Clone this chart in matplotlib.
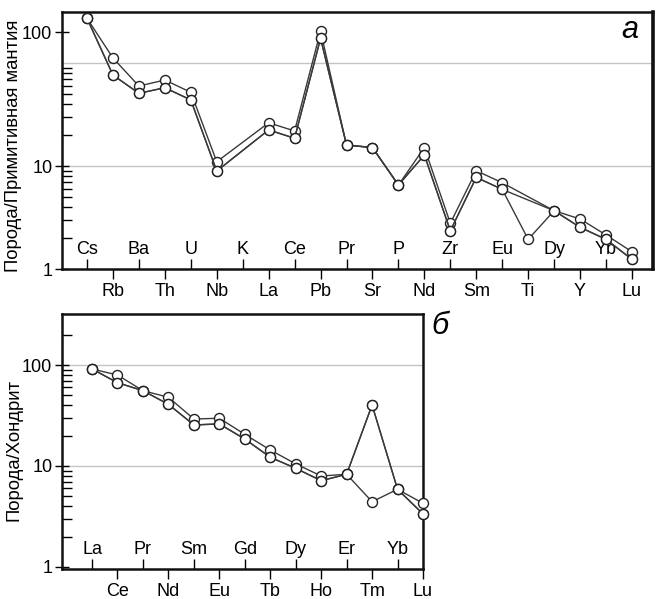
import numpy as np
import matplotlib
matplotlib.use("Agg")
import matplotlib.pyplot as plt
from matplotlib.ticker import FixedLocator, FixedFormatter, NullFormatter

plt.rcParams['font.family'] = ['Liberation Sans', 'DejaVu Sans']

# ---------------- data: panel а (primitive mantle normalised) ----------------
pm_elements = ["Cs", "Rb", "Ba", "Th", "U", "Nb", "K", "La", "Ce", "Pb", "Pr",
               "Sr", "P", "Nd", "Zr", "Sm", "Eu", "Ti", "Dy", "Y", "Yb", "Lu"]
nan = np.nan
pm_a = [272, 112, 59.8, 68.4, 52.0, 11.0, nan, 26.3, 21.9, 204.6, 16.0,
        15.1, 6.54, 15.1, 2.78, 9.0, 6.88, nan, 3.68, 3.06, 2.14, 1.47]
pm_b = [272, 76.5, 50.8, 57.6, 43.8, 8.94, nan, 22.4, 18.6, 173.7, 16.0,
        15.1, 6.54, 12.8, 2.35, 7.76, 5.93, nan, 3.68, 2.54, 1.94, 1.24]
pm_c = [272, 76.5, 50.8, 57.6, 43.8, 8.94, nan, 22.4, 18.6, 173.7, 16.0,
        15.1, 6.54, 12.8, 2.35, 7.76, 5.93, 1.94, 3.68, 2.54, 1.94, 1.24]

# ---------------- data: panel б (chondrite normalised) ----------------
ch_elements = ["La", "Ce", "Pr", "Nd", "Sm", "Eu", "Gd", "Tb", "Dy", "Ho",
               "Er", "Tm", "Yb", "Lu"]
ch_a = [91.3, 79.6, 55.7, 47.9, 29.2, 29.7, 20.6, 14.4, 10.5, 7.96, 8.28, 40.2, 5.88, 4.27]
ch_b = [91.3, 66.8, 55.7, 40.8, 25.5, 26.1, 18.5, 12.2, 9.49, 7.15, 8.28, 40.2, 5.88, 3.35]
ch_c = [91.3, 66.8, 55.7, 40.8, 25.5, 26.1, 18.5, 12.2, 9.49, 7.15, 8.28, 4.43, 5.88, 3.35]

# y tick labels as printed on the figure
pm_ytick_vals = [1, 10, 200]
pm_ytick_labels = ["1", "10", "100"]
ch_ytick_vals = [1, 10, 100]
ch_ytick_labels = ["1", "10", "100"]

W, H = 664, 599
fig = plt.figure(figsize=(W / 100, H / 100), dpi=100)

def frac_rect(l, t, r, b):
    return [l / W, 1 - b / H, (r - l) / W, (b - t) / H]

ax1 = fig.add_axes(frac_rect(62, 12, 653, 269))
ax2 = fig.add_axes(frac_rect(62, 314, 423, 569))

LINE_C = "#3a3a3a"
FS = 13

def draw_series(ax, vals):
    y = np.array(vals, dtype=float)
    x = np.arange(len(y))
    m = ~np.isnan(y)
    ax.plot(x[m], y[m], color=LINE_C, lw=1.0, marker="o", ms=7.2,
            mfc="white", mec="#222222", mew=1.0, clip_on=False, zorder=3)

def style_axis(ax, elements, xlim, ylim, ymaj, ymaj_lab, ymin_ticks):
    n = len(elements)
    ax.set_yscale("log")
    ax.set_xlim(*xlim)
    ax.set_ylim(*ylim)
    for v in (10, 100):
        ax.axhline(v, color="#c4c4c4", lw=1.0, zorder=1)
    # x ticks: odd positions below axis, even positions inside axis
    odd = list(range(1, n, 2))
    even = list(range(0, n, 2))
    ax.set_xticks(odd, [elements[i] for i in odd])
    ax.set_xticks(even, [elements[i] for i in even], minor=True)
    ax.tick_params(axis="x", which="major", direction="out", length=7,
                   width=1.0, pad=3, labelsize=FS)
    ax.tick_params(axis="x", which="minor", direction="in", length=7,
                   width=1.0, pad=-20, labelsize=FS)
    # y ticks
    ax.yaxis.set_major_locator(FixedLocator(ymaj))
    ax.yaxis.set_major_formatter(FixedFormatter(ymaj_lab))
    ax.yaxis.set_minor_locator(FixedLocator(ymin_ticks))
    ax.yaxis.set_minor_formatter(NullFormatter())
    ax.tick_params(axis="y", which="major", direction="inout", length=10,
                   width=1.0, pad=2, labelsize=FS)
    ax.tick_params(axis="y", which="minor", direction="in", length=7, width=1.0)
    for s in ax.spines.values():
        s.set_linewidth(1.8)
        s.set_color("#111111")

minor_pm = [2, 3, 4, 5, 6, 7, 8, 9, 20, 30, 40, 50, 60, 70, 80, 90]
minor_ch = [2, 3, 4, 5, 6, 7, 8, 9, 20, 30, 40, 50, 60, 70, 80, 90, 200]

style_axis(ax1, pm_elements, (-0.963, 21.81), (1.0, 313), pm_ytick_vals,
           pm_ytick_labels, minor_pm)
style_axis(ax2, ch_elements, (-1.18, 13.0), (0.955, 320), ch_ytick_vals,
           ch_ytick_labels, minor_ch)
ax1.spines["right"].set_linewidth(2.6)

for v in (pm_a, pm_b, pm_c):
    draw_series(ax1, v)
for v in (ch_a, ch_b, ch_c):
    draw_series(ax2, v)

ax1.text(0.975, 0.93, "а", transform=ax1.transAxes, ha="right", va="center",
         fontsize=22, style="italic")
fig.text(440 / W, 1 - 326 / H, "б", ha="center", va="center",
         fontsize=22, style="italic")

fig.text(14 / W, 1 - 146 / H, "Порода/Примитивная мантия", rotation=90,
         ha="center", va="center", fontsize=13.3)
fig.text(14 / W, 1 - 450 / H, "Порода/Хондрит", rotation=90,
         ha="center", va="center", fontsize=13.3)

fig.savefig("out.png", dpi=100)
